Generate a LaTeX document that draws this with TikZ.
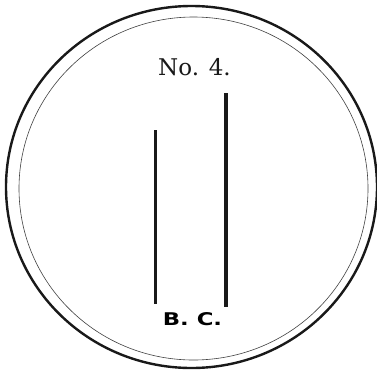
\documentclass[tikz,border=0pt]{standalone}
\usepackage{fontspec}
\usepackage{graphicx}
\setmainfont{DejaVu Serif}
\newfontfamily\bcfont{DejaVu Sans}
\tikzset{
  outerring/.style={line width=2.4pt, draw=black!90},
  innerring/.style={line width=0.6pt, draw=black!75},
  bar/.style={line width=3.4pt, draw=black!90},
  title/.style={font=\fontsize{23}{23}\selectfont, text=black!90, inner sep=0pt, anchor=base},
  label/.style={font=\bcfont\bfseries\fontsize{17.5}{17.5}\selectfont, text=black, inner sep=0pt, anchor=base}
}
\begin{document}
\begin{tikzpicture}[x=1pt,y=-1pt]
\useasboundingbox (0,0) rectangle (377,370);
\draw[outerring] (191.5,187) ellipse [x radius=185.5, y radius=181];
\draw[innerring] (193.5,188.5) ellipse [x radius=174.5, y radius=171.5];
\node[title] (t) at (194.5,75) {No. 4.};
\coordinate (l1) at (155.5,130);
\coordinate (l2) at (155.5,304);
\coordinate (r1) at (226,93);
\coordinate (r2) at (226,307);
\draw[bar] (l1) -- (l2);
\draw[bar] (r1) -- (r2);
\node[label] (bc) at (192.5,325) {\scalebox{1.3}[1]{B. C.}};
\end{tikzpicture}
\end{document}
